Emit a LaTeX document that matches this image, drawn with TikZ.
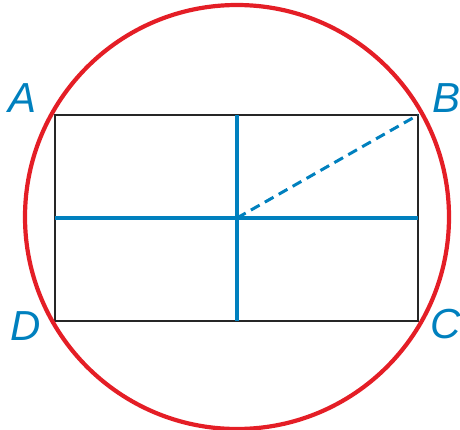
\documentclass[tikz,border=0pt]{standalone}
\usepackage{fontspec}
\setmainfont{Liberation Sans}
\definecolor{cred}{RGB}{228,30,38}
\definecolor{cblue}{RGB}{0,128,190}
\begin{document}
\begin{tikzpicture}[x=1pt,y=-1pt,
  circ/.style={draw=cred,line width=4.2pt},
  rect/.style={draw=black!85,line width=2.2pt},
  axis/.style={draw=cblue,line width=4pt},
  dash line/.style={draw=cblue,line width=3pt,dash pattern=on 10pt off 6pt},
  lbl/.style={text=cblue,font=\fontsize{42}{42}\selectfont\itshape,inner sep=0pt}]
\useasboundingbox (0,0) rectangle (460,430);
\coordinate (A) at (55,115);
\coordinate (B) at (418,115);
\coordinate (C) at (418,321);
\coordinate (D) at (55,321);
\coordinate (O) at (237,218);
\coordinate (T) at (237,115);
\coordinate (Bm) at (237,321);
\coordinate (L) at (55,218);
\coordinate (R) at (418,218);
\draw[rect] (A) -- (B) -- (C) -- (D) -- cycle;
\draw[axis] (T) -- (Bm);
\draw[axis] (L) -- (R);
\draw[dash line] (O) -- (B);
\node[circ,circle,minimum size=424pt,inner sep=0pt] (circle) at (237,217) {};
\node[lbl] (la) at (23,98) {A};
\node[lbl] (lb) at (446,98) {B};
\node[lbl] (lc) at (446,324) {C};
\node[lbl] (ld) at (26,326) {D};
\end{tikzpicture}
\end{document}
